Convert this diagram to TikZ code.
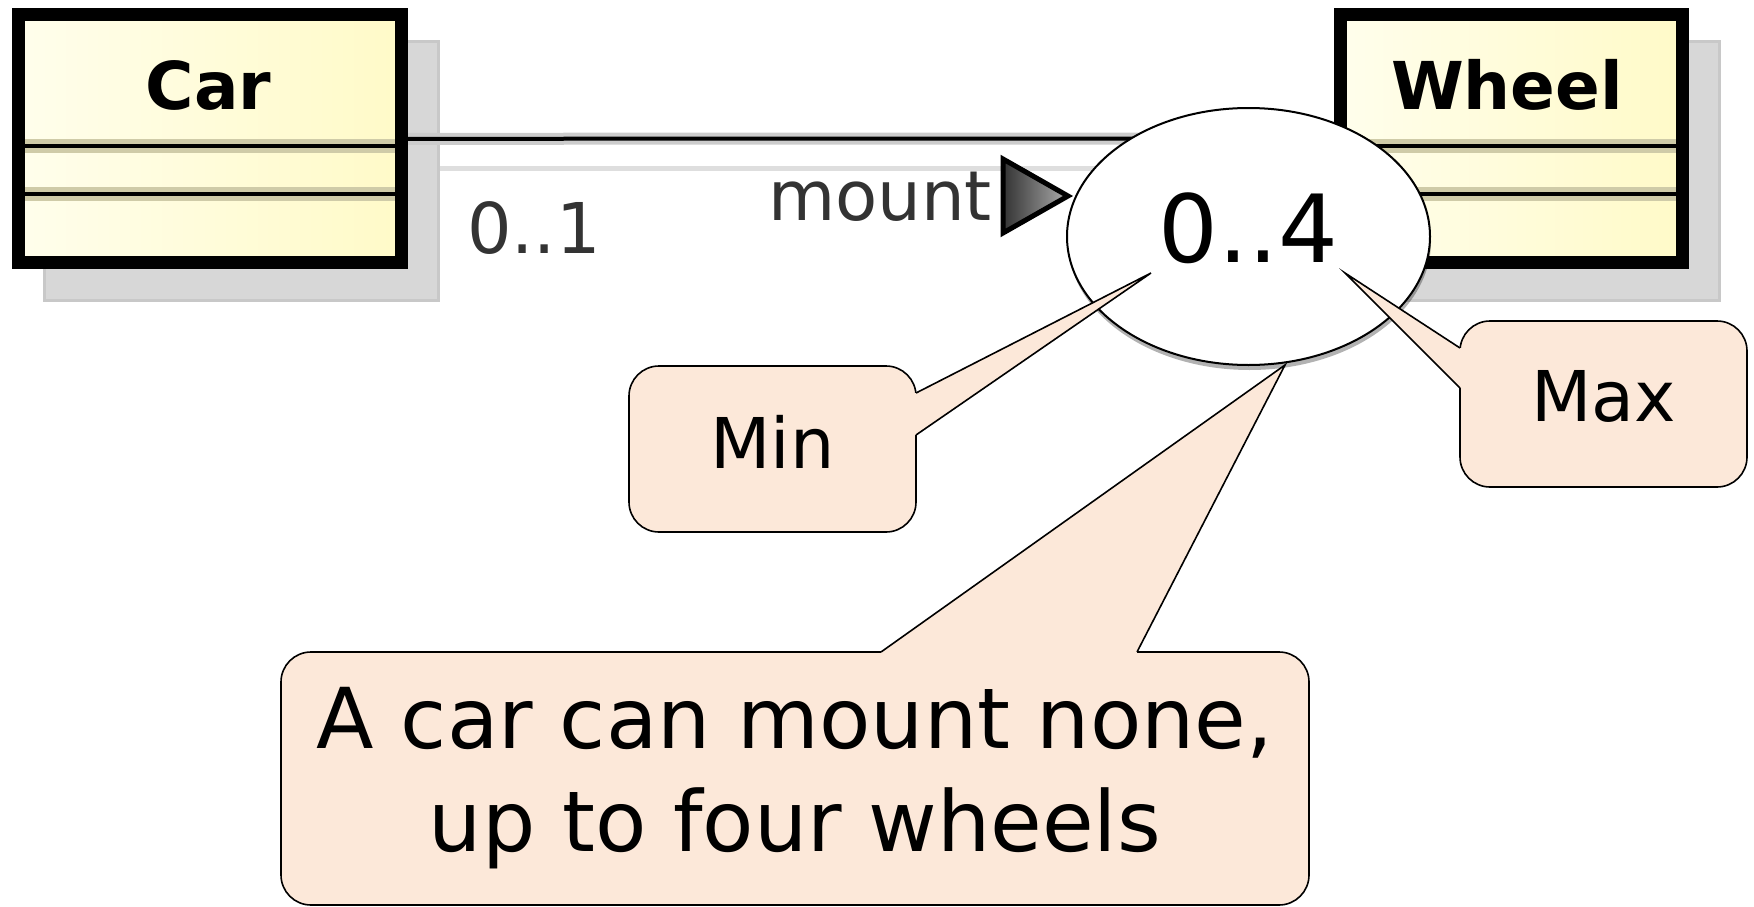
\documentclass[tikz,border=0pt]{standalone}
\usepackage{fontspec}
\setmainfont{DejaVu Sans}
\usetikzlibrary{shapes.geometric,shadows,backgrounds}
\definecolor{peach}{HTML}{FCE8D9}
\definecolor{clsA}{HTML}{FFFEEC}
\definecolor{clsB}{HTML}{FFFAC8}
\definecolor{khaki}{HTML}{CFCBA8}
\definecolor{shad}{HTML}{D7D7D7}
\definecolor{shadline}{HTML}{C8C8C8}
\begin{document}
\begin{tikzpicture}[x=1pt,y=-1pt,
  classbox/.style={draw=black,line width=13pt,left color=clsA,right color=clsB,
    minimum height=248pt,inner sep=0pt},
  classname/.style={anchor=base,font=\fontsize{66}{66}\selectfont\bfseries},
  divband/.style={khaki,line width=14pt},
  divline/.style={black,line width=4pt},
  shadowbox/.style={fill=shad,draw=shadline,line width=3pt},
  smalltext/.style={anchor=base,text=black!80,font=\fontsize{69}{69}\selectfont},
  callbox/.style={draw=black,line width=1.6pt,fill=peach,rounded corners=30pt,inner sep=0pt},
  pointerfill/.style={fill=peach},
  pointerline/.style={draw=black,line width=1.6pt,line join=miter},
  multell/.style={ellipse,draw=black,line width=2pt,fill=white,inner sep=0pt,
    minimum width=363pt,minimum height=257pt,
    drop shadow={shadow xshift=1pt,shadow yshift=-5pt,opacity=0.3,fill=black}}
]
\useasboundingbox (0,0) rectangle (1754,907);

% class boxes
\node[classbox,minimum width=383pt] (car) at (209.5,138.8) {};
\node[classbox,minimum width=342pt] (wheel) at (1511.3,138.5) {};

\begin{pgfonlayer}{background}
  \draw[shadowbox] (44.5,41.5) rectangle (438.5,300.5);
  \draw[shadowbox] (1366.5,41.5) rectangle (1719.5,300.5);
  \draw[shadline!60,line width=5pt] (440,168) -- (1365,168);
  \draw[gray!40,line width=12pt] (car.east) -- (wheel.west);
  \draw[line width=4pt] (car.east) -- (wheel.west);
\end{pgfonlayer}

% compartments
\foreach \yy in {146,193.5}{
  \draw[divband] (25,\yy) -- (395,\yy);
  \draw[divline] (25,\yy) -- (395,\yy);
  \draw[divband] (1347,\yy) -- (1676,\yy);
  \draw[divline] (1347,\yy) -- (1676,\yy);
}
\node[classname] (carname) at (208.6,110) {Car};
\node[classname] (wheelname) at (1507,110) {Wheel};

% association labels
\node[smalltext,font=\fontsize{70}{70}\selectfont] (lowmult) at (534,253) {0..1};
\node[smalltext] (assocname) at (880,220) {mount};
\draw[line width=5pt,line join=miter,left color=gray!40!black,right color=gray!65]
  (1003,159) -- (1003,233) -- (1068,196) -- cycle;

% multiplicity ellipse
\node[multell,font=\fontsize{94}{94}\selectfont,text depth=18pt] (mult) at (1248.5,236.5) {0..4};

% Min callout
\node[callbox,minimum width=287pt,minimum height=166pt,
  font=\fontsize{70}{70}\selectfont,text depth=15pt] (min) at (772.5,449) {Min};
\coordinate (minA) at (916,393);
\coordinate (minB) at (916,435);
\coordinate (minTip) at (1151,273);
\fill[pointerfill] (911,393.5) -- (minA) -- (minTip) -- (minB) -- (911,434.5) -- cycle;
\draw[pointerline] (minA) -- (minTip) -- (minB);

% Max callout
\node[callbox,minimum width=287pt,minimum height=166pt,
  font=\fontsize{70}{70}\selectfont,text depth=17pt] (max) at (1603.5,404) {Max};
\coordinate (maxA) at (1460,348);
\coordinate (maxB) at (1460,388);
\coordinate (maxTip) at (1345,273);
\fill[pointerfill] (1465,348.5) -- (maxA) -- (maxTip) -- (maxB) -- (1465,387.5) -- cycle;
\draw[pointerline] (maxA) -- (maxTip) -- (maxB);

% explanation callout
\node[callbox,minimum width=1028pt,minimum height=253pt,align=center,
  font=\fontsize{84}{103}\selectfont] (expl) at (795,778.5)
  {A car can mount none,\\up to four wheels};
\coordinate (exA) at (881,652);
\coordinate (exB) at (1137,652);
\coordinate (exTip) at (1285,365);
\fill[pointerfill] (881.5,657) -- (exA) -- (exTip) -- (exB) -- (1136.5,657) -- cycle;
\draw[pointerline] (exA) -- (exTip) -- (exB);
\end{tikzpicture}
\end{document}
